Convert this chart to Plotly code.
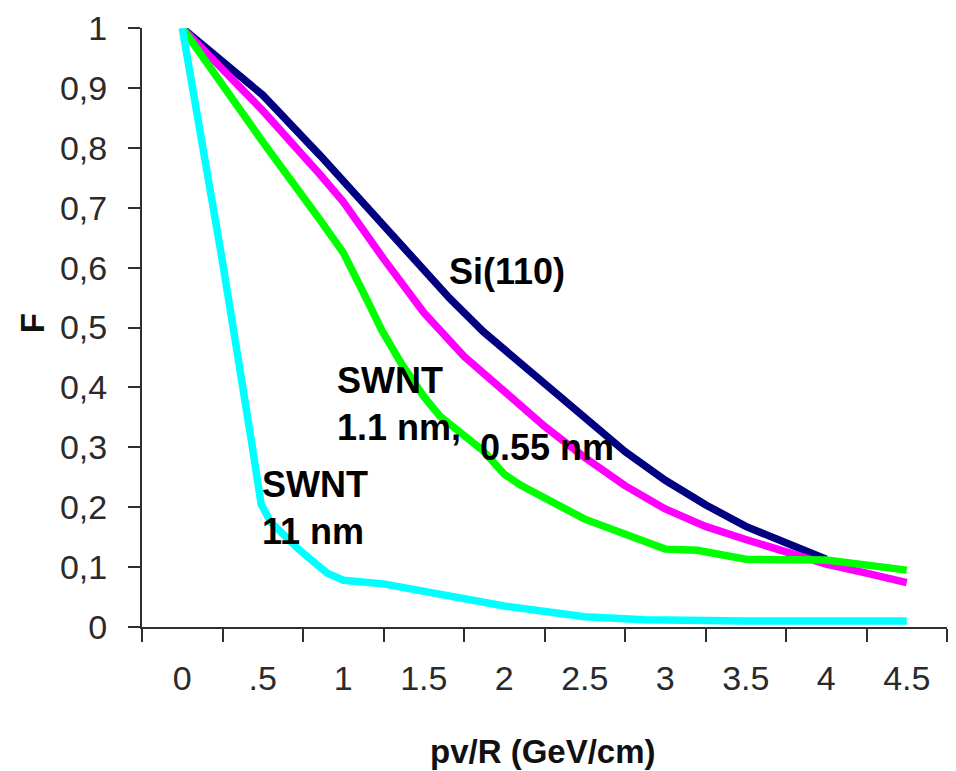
import plotly.graph_objects as go

# pv/R positions (GeV/cm) and fraction F for each crystal / nanotube
si110_x = [0, 0.5, 0.857, 1.0, 1.25, 1.5, 1.66, 1.87, 2.0, 2.25, 2.5, 2.75, 3.0, 3.25, 3.5, 3.75, 4.0]
si110_y = [1.0, 0.888, 0.787, 0.745, 0.667, 0.597, 0.549, 0.493, 0.463, 0.405, 0.347, 0.293, 0.245, 0.204, 0.168, 0.14, 0.113]

swnt055_x = [0, 0.5, 0.857, 1.0, 1.25, 1.5, 1.75, 2.0, 2.25, 2.5, 2.75, 3.0, 3.25, 3.5, 3.75, 4.0, 4.25, 4.5]
swnt055_y = [1.0, 0.862, 0.755, 0.71, 0.615, 0.525, 0.452, 0.392, 0.335, 0.283, 0.236, 0.197, 0.168, 0.146, 0.125, 0.105, 0.09, 0.074]

swnt11_x = [0, 0.317, 0.5, 0.857, 0.95, 1.0, 1.14, 1.24, 1.365, 1.5, 1.6, 1.87, 2.0, 2.1, 2.5, 3.0, 3.2, 3.5, 4.0, 4.25, 4.5]
swnt11_y = [1.0, 0.879, 0.81, 0.679, 0.645, 0.625, 0.55, 0.495, 0.438, 0.385, 0.352, 0.294, 0.255, 0.237, 0.18, 0.13, 0.128, 0.113, 0.112, 0.105, 0.095]

swnt110_x = [0, 0.25, 0.43, 0.49, 0.55, 0.73, 0.9, 1.0, 1.25, 1.5, 2.0, 2.5, 2.87, 3.5, 4.5]
swnt110_y = [1.0, 0.61, 0.31, 0.205, 0.175, 0.128, 0.09, 0.078, 0.072, 0.06, 0.035, 0.017, 0.012, 0.01, 0.01]

x_tick_vals = [0, 0.5, 1, 1.5, 2, 2.5, 3, 3.5, 4, 4.5]
x_tick_text = ["0", ".5", "1", "1.5", "2", "2.5", "3", "3.5", "4", "4.5"]
x_tick_marks = [-0.25, 0.25, 0.75, 1.25, 1.75, 2.25, 2.75, 3.25, 3.75, 4.25, 4.75]
y_tick_vals = [0, 0.1, 0.2, 0.3, 0.4, 0.5, 0.6, 0.7, 0.8, 0.9, 1.0]
y_tick_text = ["0", "0,1", "0,2", "0,3", "0,4", "0,5", "0,6", "0,7", "0,8", "0,9", "1"]

LINE_W = 7.5
fig = go.Figure()
fig.add_trace(go.Scatter(x=si110_x, y=si110_y, mode="lines",
                         line=dict(color="#000080", width=LINE_W), name="Si(110)"))
fig.add_trace(go.Scatter(x=swnt055_x, y=swnt055_y, mode="lines",
                         line=dict(color="#ff00ff", width=LINE_W), name="SWNT 0.55 nm"))
fig.add_trace(go.Scatter(x=swnt11_x, y=swnt11_y, mode="lines",
                         line=dict(color="#00ff00", width=LINE_W), name="SWNT 1.1 nm"))
fig.add_trace(go.Scatter(x=swnt110_x, y=swnt110_y, mode="lines",
                         line=dict(color="#00ffff", width=LINE_W), name="SWNT 11 nm"))

tick_font = dict(family="Liberation Sans, Arial, sans-serif", size=34, color="#2a2a2a")
label_font = dict(family="Liberation Sans, Arial, sans-serif", size=36, color="#000000")

fig.update_xaxes(
    range=[-0.25, 4.75], showgrid=False, zeroline=False,
    showline=True, linecolor="#2e2e2e", linewidth=2,
    tickmode="array", tickvals=x_tick_vals, ticktext=x_tick_text,
    ticks="", tickfont=tick_font, ticklabelstandoff=20,
    minor=dict(tickmode="array", tickvals=x_tick_marks, ticks="outside",
               ticklen=13, tickwidth=2, tickcolor="#2e2e2e", showgrid=False),
)
fig.update_yaxes(
    range=[0, 1.0], showgrid=False, zeroline=False,
    showline=True, linecolor="#2e2e2e", linewidth=2,
    tickmode="array", tickvals=y_tick_vals, ticktext=y_tick_text,
    ticks="outside", ticklen=12, tickwidth=2, tickcolor="#2e2e2e",
    tickfont=tick_font, ticklabelstandoff=14,
)

annotations = [
    dict(text="Si(110)", x=1.646, y=0.593),
    dict(text="SWNT<br>1.1 nm,", x=0.95, y=0.372),
    dict(text="0.55 nm", x=1.835, y=0.300),
    dict(text="SWNT<br>11 nm", x=0.484, y=0.198),
]
for a in annotations:
    fig.add_annotation(text="<b>" + a["text"] + "</b>", x=a["x"], y=a["y"],
                       xref="x", yref="y", xanchor="left", yanchor="middle",
                       align="left", showarrow=False, font=label_font)

# axis titles
fig.add_annotation(text="<b>F</b>", xref="paper", yref="paper", x=-0.1366, y=0.507,
                   xanchor="center", yanchor="middle", textangle=-90, showarrow=False,
                   font=dict(family="Liberation Sans, Arial, sans-serif", size=33, color="#111111"))
fig.add_annotation(text="<b>pv/R (GeV/cm)</b>", xref="paper", yref="paper", x=0.498, y=-0.2076,
                   xanchor="center", yanchor="middle", showarrow=False,
                   font=dict(family="Liberation Sans, Arial, sans-serif", size=33, color="#111111"))

fig.update_layout(
    width=956, height=771,
    margin=dict(l=142, r=9, t=25, b=144, pad=0),
    plot_bgcolor="white", paper_bgcolor="white",
    showlegend=False,
)

fig.write_html("out.html")
